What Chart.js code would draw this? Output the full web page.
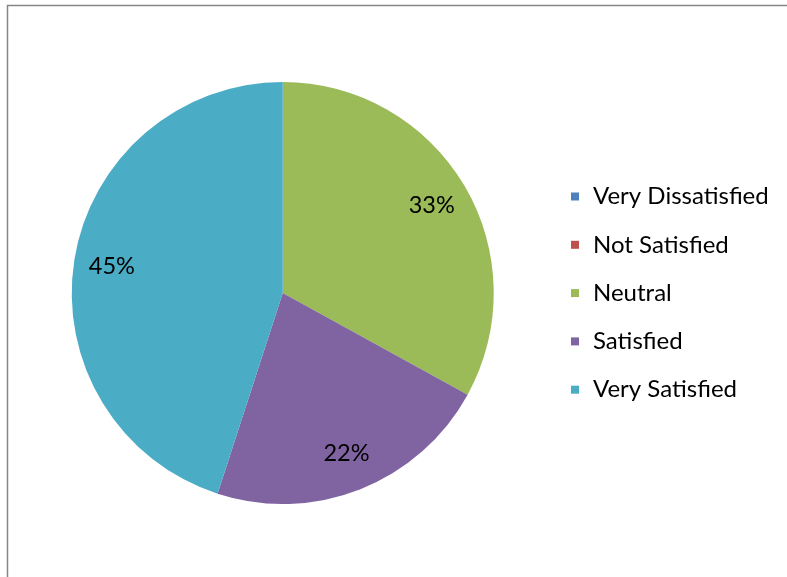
<!DOCTYPE html>
<html>
<head>
<meta charset="utf-8">
<script src="https://cdn.jsdelivr.net/npm/chart.js@4/dist/chart.umd.min.js"></script>
<style>
html,body{margin:0;padding:0;background:#fff;}
canvas{display:block;}
</style>
</head>
<body>
<canvas id="c" width="787" height="577"></canvas>
<script>
const categories = ["Very Dissatisfied", "Not Satisfied", "Neutral", "Satisfied", "Very Satisfied"];
const values = [0, 0, 33, 22, 45];
const colors = ["#4F81BD", "#C0504D", "#9BBB59", "#8064A2", "#4BACC6"];
const FONT = "Lato, 'Open Sans', sans-serif";

const framePlugin = {
  id: 'frame',
  beforeDraw(chart) {
    const ctx = chart.ctx;
    ctx.save();
    ctx.fillStyle = '#fff';
    ctx.fillRect(0, 0, chart.width, chart.height);
    ctx.strokeStyle = '#868686';
    ctx.lineWidth = 1.5;
    ctx.beginPath();
    ctx.moveTo(7.5, chart.height);
    ctx.lineTo(7.5, 5.5);
    ctx.lineTo(787, 5.5);
    ctx.stroke();
    ctx.restore();
  }
};

const labelPlugin = {
  id: 'pctLabels',
  afterDatasetsDraw(chart) {
    const ctx = chart.ctx;
    const meta = chart.getDatasetMeta(0);
    const ds = chart.data.datasets[0];
    const total = ds.data.reduce((a, b) => a + b, 0);
    ctx.save();
    ctx.font = "23.5px " + FONT;
    ctx.fillStyle = '#000';
    ctx.textAlign = 'center';
    ctx.textBaseline = 'middle';
    meta.data.forEach((arc, i) => {
      const v = ds.data[i];
      if (!v) return;
      const p = arc.getProps(['x', 'y', 'startAngle', 'endAngle', 'outerRadius'], true);
      const mid = (p.startAngle + p.endAngle) / 2;
      const r = p.outerRadius * 0.82;
      ctx.fillText(Math.round(v / total * 100) + '%', p.x + Math.cos(mid) * r, p.y + Math.sin(mid) * r);
    });
    ctx.restore();
  }
};

const legendPlugin = {
  id: 'sideLegend',
  afterDraw(chart) {
    const ctx = chart.ctx;
    const labels = chart.data.labels;
    const bg = chart.data.datasets[0].backgroundColor;
    ctx.save();
    ctx.font = "24px " + FONT;
    ctx.textBaseline = 'middle';
    ctx.textAlign = 'left';
    labels.forEach((lab, i) => {
      const y = 196.5 + i * 48.3;
      ctx.fillStyle = bg[i];
      ctx.fillRect(571, y - 4, 8, 8);
      ctx.fillStyle = '#000';
      ctx.fillText(lab, 593, y);
    });
    ctx.restore();
  }
};

new Chart(document.getElementById('c'), {
  type: 'pie',
  data: {
    labels: categories,
    datasets: [{
      data: values,
      backgroundColor: colors,
      borderWidth: 0
    }]
  },
  options: {
    responsive: false,
    animation: false,
    layout: { padding: { left: 71.5, right: 293, top: 82, bottom: 73 } },
    plugins: {
      legend: { display: false },
      tooltip: { enabled: false }
    }
  },
  plugins: [framePlugin, labelPlugin, legendPlugin]
});
</script>
</body>
</html>
